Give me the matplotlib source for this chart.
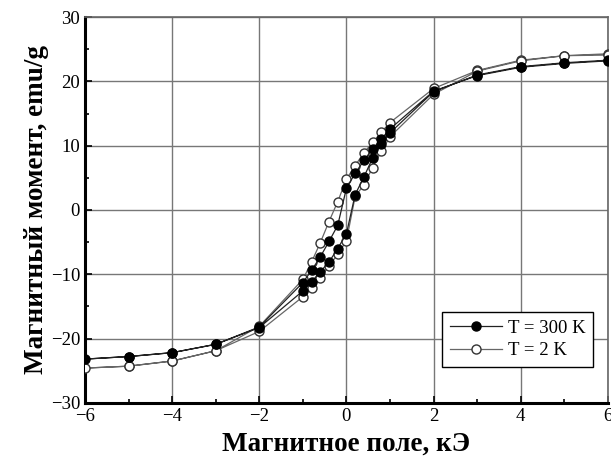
import matplotlib
matplotlib.use("Agg")
import matplotlib.pyplot as plt
from matplotlib.ticker import MultipleLocator

plt.rcParams['font.family'] = ['Liberation Serif', 'DejaVu Serif']

# Field values (kOe): descending branch then ascending branch
h_desc = [6, 5, 4, 3, 2, 1, 0.8, 0.6, 0.4, 0.2, 0, -0.2, -0.4, -0.6, -0.8, -1, -2, -3, -4, -5, -6]
h_asc = [-6, -5, -4, -3, -2, -1, -0.8, -0.6, -0.4, -0.2, 0, 0.2, 0.4, 0.6, 0.8, 1, 2, 3, 4, 5, 6]

# T = 300 K (filled)
m300_desc = [23.2, 22.8, 22.2, 20.9, 18.5, 12.6, 11.0, 9.5, 7.7, 5.7, 3.4, -2.4, -4.9, -7.3, -9.4, -11.3, -18.2, -20.9, -22.2, -22.8, -23.2]
m300_asc = [-23.2, -22.8, -22.2, -20.9, -18.3, -12.6, -11.2, -9.6, -8.1, -6.0, -3.7, 2.4, 5.1, 8.1, 10.3, 12.0, 18.4, 21.0, 22.3, 22.9, 23.3]

# T = 2 K (open)
m2_desc = [24.3, 24.0, 23.3, 21.7, 18.9, 13.6, 12.1, 10.5, 8.9, 6.9, 4.8, 1.3, -1.8, -5.1, -8.1, -10.8, -18.1, -21.9, -23.5, -24.3, -24.6]
m2_asc = [-24.6, -24.3, -23.5, -21.9, -18.9, -13.5, -12.1, -10.6, -8.7, -6.9, -4.8, 2.1, 3.9, 6.6, 9.1, 11.4, 18.0, 21.6, 23.2, 24.0, 24.1]

x_ticks = [-6, -4, -2, 0, 2, 4, 6]
y_ticks = [-30, -20, -10, 0, 10, 20, 30]

fig = plt.figure(figsize=(6.11, 4.63), dpi=100)
ax = fig.add_axes([0.139, 0.13, 0.856, 0.833])

h300 = h_desc + h_asc[1:]
m300 = m300_desc + m300_asc[1:]
h2 = h_desc + h_asc[1:]
m2 = m2_desc + m2_asc[1:]

ax.plot(h300, m300, '-', color='#222222', lw=0.9, marker='o', ms=6.5,
        mfc='black', mec='black', label='T = 300 K', zorder=4)
ax.plot(h2, m2, '-', color='#666666', lw=0.9, marker='o', ms=6.5,
        mfc='white', mec='#333333', mew=1.0, label='T = 2 K', zorder=3)

ax.set_xlim(-6, 6)
ax.set_ylim(-30, 30)
ax.set_xticks(x_ticks)
ax.set_yticks(y_ticks)
ax.xaxis.set_minor_locator(MultipleLocator(1))
ax.yaxis.set_minor_locator(MultipleLocator(5))
ax.tick_params(which='both', direction='in', labelsize=13.5, width=1.2)
ax.tick_params(which='major', length=5)
ax.tick_params(which='minor', length=3)
ax.grid(True, which='major', color='#777777', lw=1.0)
ax.set_axisbelow(True)

for s in ['left', 'bottom']:
    ax.spines[s].set_linewidth(2.2)
for s in ['right', 'top']:
    ax.spines[s].set_linewidth(1.2)
    ax.spines[s].set_color('#666666')

ax.set_xlabel('Магнитное поле, кЭ', fontsize=19.5, fontweight='bold', labelpad=5)
ax.set_ylabel('Магнитный момент, emu/g', fontsize=19.5, fontweight='bold', labelpad=1)

leg = ax.legend(loc='lower right', bbox_to_anchor=(0.989, 0.069), fontsize=13.5,
                frameon=True, fancybox=False, edgecolor='black',
                handlelength=2.8, borderpad=0.4, labelspacing=0.3, handletextpad=0.3)
leg.get_frame().set_linewidth(1.0)
leg.get_frame().set_alpha(1)

fig.savefig('out.png', dpi=100)
